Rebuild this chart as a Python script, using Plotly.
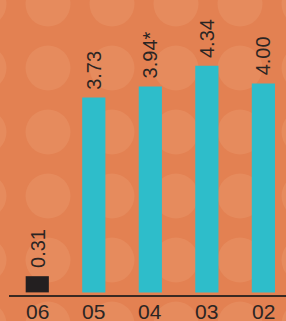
import plotly.graph_objects as go

categories = ["06", "05", "04", "03", "02"]
values = [0.31, 3.73, 3.94, 4.34, 4.00]
value_labels = ["0.31", "3.73", "3.94*", "4.34", "4.00"]
bar_colors = ["#231f20", "#2ebdca", "#2ebdca", "#2ebdca", "#2ebdca"]

W, H = 286, 321
BG = "#e38152"
DOT = "#e68b5d"
FONT = "Liberation Sans, Arial, sans-serif"
TXT = "#2b2523"

fig = go.Figure()
fig.add_trace(go.Bar(
    x=categories, y=values, marker=dict(color=bar_colors, line=dict(width=0)),
    width=0.41, hoverinfo="skip", showlegend=False,
))

# decorative dot pattern
shapes = []
r = 22.5
for cx in range(-16, W + 40, 64):
    for cy in range(4, H + 40, 64):
        shapes.append(dict(
            type="circle", xref="paper", yref="paper", layer="below",
            x0=(cx - r - 9) / 277, x1=(cx + r - 9) / 277,
            y0=(295 - (cy + r)) / 295, y1=(295 - (cy - r)) / 295,
            fillcolor=DOT, line=dict(width=0),
        ))

annotations = []
for i, (v, t) in enumerate(zip(values, value_labels)):
    annotations.append(dict(
        x=i, y=v, text=t, showarrow=False, textangle=-90,
        xanchor="center", yanchor="bottom", yshift=6,
        font=dict(family=FONT, size=20, color=TXT),
    ))
# category labels under the axis line
for i, c in enumerate(categories):
    annotations.append(dict(
        x=i, y=0, yref="paper", text=c, showarrow=False,
        xanchor="center", yanchor="top", yshift=-3,
        font=dict(family=FONT, size=21, color=TXT),
    ))

fig.update_layout(
    width=W, height=H,
    margin=dict(l=9, r=0, t=0, b=26),
    paper_bgcolor=BG, plot_bgcolor="rgba(0,0,0,0)",
    shapes=shapes, annotations=annotations,
    xaxis=dict(
        type="category", range=[-0.5, 4.4], showgrid=False, zeroline=False,
        showline=True, linecolor="#3a2a22", linewidth=1.5, ticks="",
        showticklabels=False, automargin=False,
    ),
    yaxis=dict(range=[-0.05, 5.597], visible=False, showgrid=False,
               zeroline=False, automargin=False),
)

fig.write_html("out.html", config={"displayModeBar": False},
               post_script="document.body.style.margin='0';")
